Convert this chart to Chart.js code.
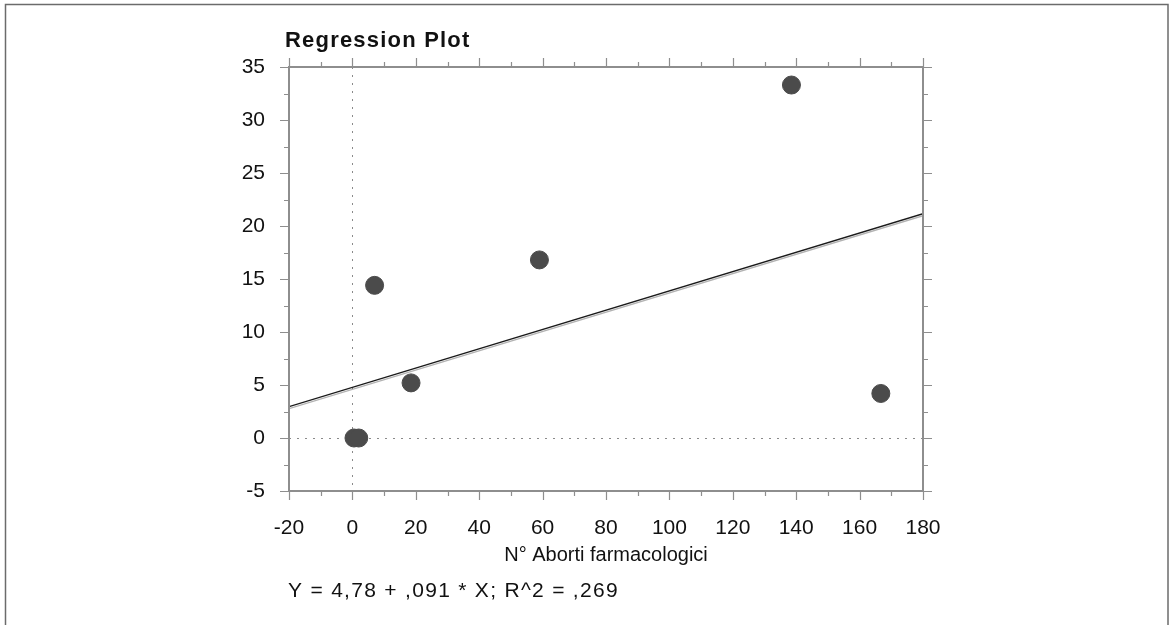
<!DOCTYPE html>
<html>
<head>
<meta charset="utf-8">
<script src="https://cdn.jsdelivr.net/npm/chart.js@4.4.0/dist/chart.umd.min.js"></script>
<style>
  html, body { margin: 0; padding: 0; background: #fff; overflow: hidden; }
  #wrap { position: relative; width: 1169px; height: 625px; }
</style>
</head>
<body>
<div id="wrap"><canvas id="regChart" width="1169" height="625"></canvas></div>
<script>
  // observations: N° aborti farmacologici vs response
  var abortiX = [0.5, 2, 7, 18.5, 59, 138.5, 166.7];
  var valoriY = [0, 0, 14.4, 5.2, 16.8, 33.3, 4.2];

  // fitted model  Y = a + b * X
  var intercept = 4.78;
  var slope = 0.091;
  var rSquared = ",269";

  var xTicks = [-20, 0, 20, 40, 60, 80, 100, 120, 140, 160, 180];
  var yTicks = [-5, 0, 5, 10, 15, 20, 25, 30, 35];

  var FONT = "'Liberation Sans', Arial, sans-serif";
  var AXIS_GRAY = "#8e8e8e";

  var points = abortiX.map((x, i) => ({ x: x, y: valoriY[i] }));
  var xMin = xTicks[0], xMax = xTicks[xTicks.length - 1];
  var fitLine = [xMin, xMax].map((x) => ({ x: x, y: intercept + slope * x }));

  // frame, axes box with major/minor ticks on every side, zero reference lines
  var plotDecor = {
    id: "plotDecor",
    beforeDraw(chart) {
      const ctx = chart.ctx;
      ctx.save();
      ctx.fillStyle = "#fff";
      ctx.fillRect(0, 0, chart.width, chart.height);
      ctx.strokeStyle = "#6b6b6b";
      ctx.lineWidth = 1.5;
      ctx.strokeRect(5.5, 4.5, 1162.5, 700);
      ctx.restore();
    },
    beforeDatasetsDraw(chart) {
      const { ctx, chartArea: a, scales } = chart;
      const x0 = Math.round(scales.x.getPixelForValue(0)) + 0.5;
      const y0 = Math.round(scales.y.getPixelForValue(0)) + 0.5;
      ctx.save();
      ctx.strokeStyle = "#8a8a8a";
      ctx.lineWidth = 1;
      ctx.setLineDash([2, 6]);
      ctx.beginPath();
      ctx.moveTo(x0, a.top);
      ctx.lineTo(x0, a.bottom);
      ctx.moveTo(a.left, y0);
      ctx.lineTo(a.right, y0);
      ctx.stroke();
      ctx.restore();
    },
    afterDraw(chart) {
      const { ctx, chartArea: a, scales } = chart;
      const sx = scales.x, sy = scales.y;
      ctx.save();
      ctx.strokeStyle = AXIS_GRAY;
      ctx.lineWidth = 2;
      ctx.strokeRect(a.left, a.top, a.right - a.left, a.bottom - a.top);

      ctx.lineWidth = 1.2;
      ctx.beginPath();
      const xStep = xTicks[1] - xTicks[0];
      for (let v = xMin; v <= xMax; v += xStep / 2) {
        const len = (v - xMin) % xStep === 0 ? 9 : 5;
        const px = Math.round(sx.getPixelForValue(v)) + 0.5;
        ctx.moveTo(px, a.bottom);
        ctx.lineTo(px, a.bottom + len);
        ctx.moveTo(px, a.top);
        ctx.lineTo(px, a.top - len);
      }
      const yMin = yTicks[0], yMax = yTicks[yTicks.length - 1];
      const yStep = yTicks[1] - yTicks[0];
      for (let v = yMin; v <= yMax; v += yStep / 2) {
        const len = (v - yMin) % yStep === 0 ? 9 : 5;
        const py = Math.round(sy.getPixelForValue(v)) + 0.5;
        ctx.moveTo(a.left, py);
        ctx.lineTo(a.left - len, py);
        ctx.moveTo(a.right, py);
        ctx.lineTo(a.right + len, py);
      }
      ctx.stroke();

      // heading and fitted equation
      ctx.fillStyle = "#111";
      ctx.textBaseline = "alphabetic";
      ctx.textAlign = "left";
      ctx.font = "bold 22px " + FONT;
      ctx.letterSpacing = "1.2px";
      ctx.fillText("Regression Plot", 285, 47);
      ctx.font = "21px " + FONT;
      ctx.letterSpacing = "1.3px";
      ctx.fillText("Y = " + intercept.toString().replace(".", ",") + " + ," +
        slope.toString().split(".")[1] + " * X; R^2 = " + rSquared, 288, 597);
      ctx.restore();
    }
  };

  // soft grey shadow under the regression line
  var lineShadow = {
    id: "lineShadow",
    beforeDatasetDraw(chart, args) {
      if (args.index !== 1) return;
      const ctx = chart.ctx;
      ctx.save();
      ctx.shadowColor = "rgba(0,0,0,0.3)";
      ctx.shadowOffsetY = 2;
      ctx.shadowBlur = 0;
    },
    afterDatasetDraw(chart, args) {
      if (args.index !== 1) return;
      chart.ctx.restore();
    }
  };

  const ctx = document.getElementById("regChart");

  var chartOptions = {
    type: "scatter",
    data: {
      datasets: [{
        label: "Osservazioni",
        data: points,
        backgroundColor: "#4b4b4b",
        borderColor: "#4b4b4b",
        pointRadius: 9,
        pointHoverRadius: 9,
        order: 0,
      }, {
        label: "Retta",
        type: "line",
        data: fitLine,
        borderColor: "#1a1a1a",
        borderWidth: 1.4,
        pointRadius: 0,
        fill: false,
        order: 1,
      }],
    },
    options: {
      responsive: false,
      animation: false,
      events: [],
      layout: {
        padding: { left: 0, top: 67, right: 246, bottom: 58 },
      },
      plugins: {
        legend: { display: false },
        tooltip: { enabled: false },
        title: { display: false },
      },
      scales: {
        x: {
          type: "linear",
          min: xMin,
          max: xMax,
          afterBuildTicks(scale) {
            scale.ticks = xTicks.map((v) => ({ value: v }));
          },
          afterFit(scale) {
            scale.height = 76;
          },
          grid: { display: false, drawTicks: false },
          border: { display: false },
          ticks: {
            color: "#111",
            padding: 25,
            maxRotation: 0,
            font: { family: FONT, size: 21 },
          },
          title: {
            display: true,
            text: "N° Aborti farmacologici",
            color: "#111",
            padding: 0,
            font: { family: FONT, size: 20 },
          },
        },
        y: {
          type: "linear",
          min: yTicks[0],
          max: yTicks[yTicks.length - 1],
          afterBuildTicks(scale) {
            scale.ticks = yTicks.map((v) => ({ value: v }));
          },
          afterFit(scale) {
            scale.width = 289;
          },
          grid: { display: false, drawTicks: false },
          border: { display: false },
          ticks: {
            color: "#111",
            padding: 24,
            font: { family: FONT, size: 21 },
          },
        },
      },
    },
    plugins: [plotDecor, lineShadow],
  };

  var chart = new Chart(ctx, chartOptions);
</script>
</body>
</html>
